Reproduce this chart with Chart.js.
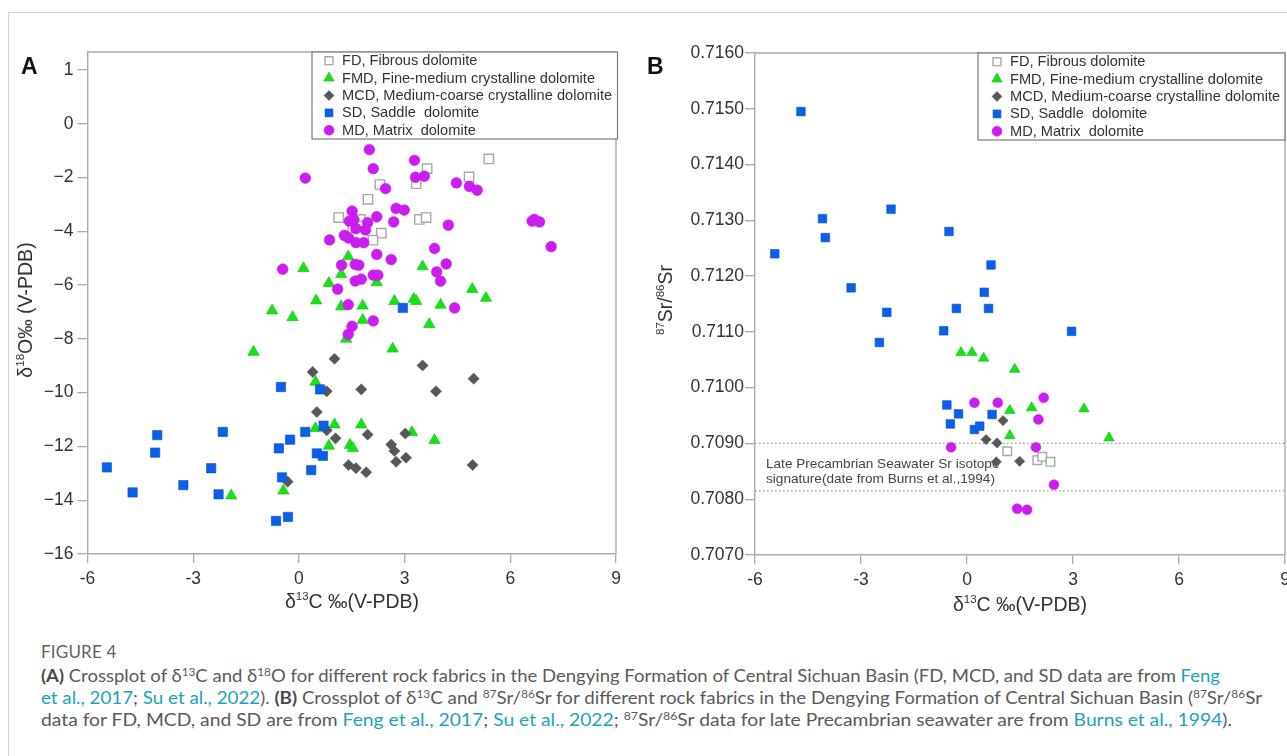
<!DOCTYPE html>
<html><head><meta charset="utf-8">
<script src="https://cdn.jsdelivr.net/npm/chart.js@4.4.1/dist/chart.umd.min.js"></script>
<style>
html,body{margin:0;padding:0;background:#fff;width:1287px;height:756px;overflow:hidden;position:relative;font-family:"Liberation Sans",Arial,sans-serif;}
.frame{position:absolute;left:8px;top:12px;width:1300px;height:760px;border-left:1px solid #d6d6d6;border-top:1px solid #d6d6d6;}
#wa{position:absolute;left:0;top:30px;width:640px;height:600px;}
#wb{position:absolute;left:640px;top:30px;width:660px;height:600px;}
.lbl{position:absolute;font-weight:bold;font-size:23px;color:#111;line-height:1;}
.t{position:absolute;font-size:19.5px;color:#333;white-space:nowrap;line-height:1;}
.t sup{font-size:11.5px;vertical-align:0;position:relative;top:-8px;}
.rot{transform:translate(-50%,-50%) rotate(-90deg);}
.cen{transform:translate(-50%,-50%);}
.cap{position:absolute;left:41px;font-family:Lato,"Open Sans",sans-serif;color:#5a5a5a;font-size:16.5px;white-space:nowrap;transform-origin:0 50%;line-height:1;}
.cap a{color:#1aa3bd;text-decoration:none;}
.cap b{color:#4a4a4a;}
.cap sup{font-size:10.5px;position:relative;top:-6px;vertical-align:0;}
.fig{font-size:17px;color:#5f5f5f;letter-spacing:0.2px;}
</style></head><body>
<div class="frame"></div>
<div id="wa"><canvas id="ca"></canvas></div>
<div id="wb"><canvas id="cb"></canvas></div>
<div class="lbl" style="left:21px;top:55px;">A</div>
<div class="lbl" style="left:647px;top:55px;">B</div>
<div class="t rot" style="left:26px;top:310px;">δ<sup>18</sup>O‰ (V-PDB)</div>
<div class="t cen" style="left:352px;top:602px;">δ<sup>13</sup>C ‰(V-PDB)</div>
<div class="t rot" style="left:666px;top:300px;"><sup>87</sup>Sr/<sup>86</sup>Sr</div>
<div class="t cen" style="left:1020px;top:605px;">δ<sup>13</sup>C ‰(V-PDB)</div>
<div class="cap fig" style="top:643px;">FIGURE 4</div>
<div class="cap cl" style="top:668px;" data-w="1179"><b>(A)</b> Crossplot of δ<sup>13</sup>C and δ<sup>18</sup>O for different rock fabrics in the Dengying Formation of Central Sichuan Basin (FD, MCD, and SD data are from <a>Feng</a></div>
<div class="cap cl" style="top:690px;" data-w="1221"><a>et al., 2017</a>; <a>Su et al., 2022</a>). <b>(B)</b> Crossplot of δ<sup>13</sup>C and <sup>87</sup>Sr/<sup>86</sup>Sr for different rock fabrics in the Dengying Formation of Central Sichuan Basin (<sup>87</sup>Sr/<sup>86</sup>Sr</div>
<div class="cap cl" style="top:712px;" data-w="1191">data for FD, MCD, and SD are from <a>Feng et al., 2017</a>; <a>Su et al., 2022</a>; <sup>87</sup>Sr/<sup>86</sup>Sr data for late Precambrian seawater are from <a>Burns et al., 1994</a>).</div>
<script>
// ---------- tick values / labels ----------
const xTickValues = [-6, -3, 0, 3, 6, 9];
const xTickLabels = ['-6', '-3', '0', '3', '6', '9'];
const yTickValuesA = [2, 0, -2, -4, -6, -8, -10, -12, -14, -16];
const yTickLabelsA = ['1', '0', '−2', '−4', '−6', '−8', '−10', '−12', '−14', '−16'];
const yTickValuesB = [0.7160, 0.7150, 0.7140, 0.7130, 0.7120, 0.7110, 0.7100, 0.7090, 0.7080, 0.7070];
const yTickLabelsB = ['0.7160', '0.7150', '0.7140', '0.7130', '0.7120', '0.7110', '0.7100', '0.7090', '0.7080', '0.7070'];

const seriesLabels = ['FD, Fibrous dolomite', 'FMD, Fine-medium crystalline dolomite', 'MCD, Medium-coarse crystalline dolomite', 'SD, Saddle  dolomite', 'MD, Matrix  dolomite'];

// ---------- Panel A: d13C vs d18O ----------
const fdAx = [5.39, 3.64, 4.83, 2.30, 3.33, 1.96, 1.13, 1.74, 3.42, 3.61, 1.53, 1.78, 2.34, 2.10];
const fdAy = [-1.31, -1.67, -1.98, -2.26, -2.23, -2.81, -3.49, -3.56, -3.56, -3.49, -3.86, -3.80, -4.07, -4.33];

const fmdAx = [0.13, 1.40, 1.20, 0.85, 2.21, 3.51, 0.49, 1.20, 1.81, 2.71, 3.26, 3.33, 4.02, 4.92, 5.31, 1.81, 3.70, 1.34, 2.66, -0.76, -0.18, -1.29, 0.47, 0.47, -0.44, -1.92, 1.01, 1.77, 3.21, 3.85, 0.85, 1.45, 1.53];
const fmdAy = [-5.38, -4.94, -5.60, -5.93, -5.90, -5.31, -6.58, -6.80, -6.77, -6.60, -6.52, -6.60, -6.74, -6.15, -6.48, -7.30, -7.46, -8.00, -8.37, -6.95, -7.20, -8.49, -9.60, -11.33, -13.65, -13.83, -11.19, -11.19, -11.48, -11.77, -11.98, -11.95, -12.07];

const mcdAx = [1.01, 0.39, 3.51, 4.96, 0.79, 1.77, 3.89, 0.51, 0.79, 1.04, 1.95, 3.02, 2.62, 2.71, 2.76, 3.04, 1.41, 1.62, 1.91, 4.93, -0.32];
const mcdAy = [-8.74, -9.23, -8.99, -9.48, -9.95, -9.88, -9.95, -10.72, -11.40, -11.70, -11.56, -11.52, -11.93, -12.17, -12.57, -12.42, -12.69, -12.81, -12.96, -12.69, -13.31];

const sdAx = [-5.45, -4.72, -4.02, -4.08, -3.28, -2.49, -2.16, -2.28, -0.51, -0.57, -0.25, -0.48, -0.65, -0.31, 0.18, 0.35, 0.60, 0.70, 0.51, 0.68, 2.95];
const sdAy = [-12.78, -13.71, -11.58, -12.23, -13.44, -12.81, -11.46, -13.78, -9.79, -12.07, -11.75, -13.15, -14.77, -14.62, -11.46, -12.88, -9.88, -11.23, -12.26, -12.35, -6.85];

const mdAx = [2.00, 2.11, 0.18, 3.28, 3.31, 3.56, 2.46, 4.47, 4.84, 5.06, 1.51, 2.76, 2.99, 2.21, 1.43, 1.56, 1.95, 2.69, 1.89, 1.62, 1.29, 1.41, 1.62, 1.84, 0.87, 4.24, 6.62, 6.68, 6.83, 7.16, 3.85, 2.21, 2.62, 1.21, 1.60, 1.70, 4.18, 3.91, 4.02, 2.11, 2.24, 1.60, 1.77, 1.10, 1.40, 4.42, 2.11, 1.51, 1.40, -0.46];
const mdAy = [-0.96, -1.67, -2.02, -1.36, -1.99, -1.95, -2.41, -2.20, -2.33, -2.47, -3.25, -3.15, -3.21, -3.46, -3.62, -3.56, -3.68, -3.65, -3.95, -3.90, -4.15, -4.25, -4.42, -4.42, -4.32, -3.77, -3.62, -3.56, -3.65, -4.57, -4.64, -4.86, -5.05, -5.26, -5.23, -5.26, -5.21, -5.51, -5.85, -5.63, -5.63, -5.85, -5.78, -6.15, -6.73, -6.85, -7.33, -7.53, -7.83, -5.41];

// ---------- Panel B: d13C vs 87Sr/86Sr ----------
const fdBx = [1.14, 1.99, 2.13, 2.36];
const fdBy = [0.70886, 0.70870, 0.70876, 0.70867];

const fmdBx = [-0.17, 0.14, 0.47, 1.35, 1.21, 1.83, 3.31, 1.21, 4.02];
const fmdBy = [0.71063, 0.71063, 0.71053, 0.71033, 0.70959, 0.70964, 0.70962, 0.70914, 0.70910];

const mcdBx = [1.02, 0.54, 0.85, 0.83, 1.49];
const mcdBy = [0.70941, 0.70907, 0.70901, 0.70867, 0.70868];

const sdBx = [-4.70, -5.44, -4.09, -4.01, -2.15, -0.51, -3.28, -2.27, -0.30, -2.48, -0.66, -0.57, -0.24, -0.47, 0.68, 0.49, 0.61, 2.96, 0.71, 0.21, 0.36];
const sdBy = [0.71495, 0.71240, 0.71303, 0.71269, 0.71320, 0.71280, 0.71179, 0.71135, 0.71142, 0.71081, 0.71102, 0.70969, 0.70953, 0.70935, 0.71220, 0.71171, 0.71142, 0.71101, 0.70952, 0.70925, 0.70931];

const mdBx = [0.21, 0.87, 2.17, 2.02, -0.45, 1.95, 2.46, 1.42, 1.70];
const mdBy = [0.70973, 0.70973, 0.70982, 0.70943, 0.70893, 0.70893, 0.70826, 0.70783, 0.70781];

// Late Precambrian seawater Sr band (Burns et al., 1994)
const seawaterBand = [0.7090, 0.70815];
const seawaterText = ['Late Precambrian Seawater Sr isotope', 'signature(date from Burns et al.,1994)'];

// ---------- styles ----------
const FONT = '"Liberation Sans", Arial, sans-serif';
const styles = [
  {pointStyle: 'rect', radius: 6.6, bg: '#ffffff', border: '#a8a8a8', bw: 1.4, lr: 5.6},
  {pointStyle: 'triangle', radius: 6.6, bg: '#16e316', border: '#10c010', bw: 0.6, lr: 6},
  {pointStyle: 'rectRot', radius: 5.6, bg: '#575757', border: '#575757', bw: 0.5, lr: 5},
  {pointStyle: 'rect', radius: 6.6, bg: '#0b5fe8', border: '#0a52d0', bw: 0.6, lr: 5.6},
  {pointStyle: 'circle', radius: 5.4, bg: '#cc1df0', border: '#c21ae6', bw: 0.5, lr: 5}
];
const ordersTop = [4, 3, 2, 1, 0];

function pts(xs, ys) { return xs.map((x, i) => ({x: x, y: ys[i]})); }

function makeSets(groups, rScale) {
  return groups.map((g, i) => ({
    label: seriesLabels[i],
    data: pts(g[0], g[1]),
    pointStyle: styles[i].pointStyle,
    pointRadius: styles[i].radius * rScale,
    pointHoverRadius: styles[i].radius * rScale,
    backgroundColor: styles[i].bg,
    borderColor: styles[i].border,
    pointBorderWidth: styles[i].bw,
    showLine: false,
    order: ordersTop[i]
  }));
}

const frameLegend = {
  id: 'frameLegend',
  beforeDatasetsDraw(chart, args, opts) {
    const a = chart.chartArea, ctx = chart.ctx;
    ctx.save();
    ctx.strokeStyle = '#ababab';
    ctx.lineWidth = 1.4;
    ctx.beginPath();
    ctx.moveTo(a.left, a.top); ctx.lineTo(a.right, a.top); ctx.lineTo(a.right, a.bottom);
    ctx.stroke();
    if (opts.band) {
      const ys = chart.scales.y;
      ctx.fillStyle = '#444';
      ctx.font = '13.6px ' + FONT;
      ctx.textBaseline = 'middle';
      const y0 = ys.getPixelForValue(seawaterBand[0]);
      ctx.fillText(seawaterText[0], a.left + 11, y0 + 21);
      ctx.fillText(seawaterText[1], a.left + 11, y0 + 36);
    }
    ctx.restore();
  },
  afterDatasetsDraw(chart, args, opts) {
    const a = chart.chartArea, ctx = chart.ctx;
    const L = opts.legend;
    const bx = a.right - L.w, by = a.top;
    ctx.save();
    ctx.fillStyle = '#fff';
    ctx.fillRect(bx, by, L.w + L.over, 87);
    ctx.strokeStyle = '#7a7a7a';
    ctx.lineWidth = 1.2;
    ctx.strokeRect(bx, by, L.w + L.over, 87);
    ctx.font = L.font + 'px ' + FONT;
    ctx.textBaseline = 'middle';
    const drawPoint = Chart.helpers && Chart.helpers.drawPoint;
    seriesLabels.forEach((lab, i) => {
      const y = by + 8.7 + i * 17.4;
      const s = styles[i];
      ctx.fillStyle = s.bg; ctx.strokeStyle = s.border; ctx.lineWidth = s.bw;
      drawPoint(ctx, {pointStyle: s.pointStyle, radius: s.lr, rotation: 0, borderWidth: s.bw}, bx + L.mx, y);
      ctx.fillStyle = '#333';
      ctx.fillText(lab, bx + L.tx, y + 0.5);
    });
    ctx.restore();
  }
};

function axisX(h) {
  return {
    type: 'linear', min: -6, max: 9,
    afterBuildTicks: s => { s.ticks = xTickValues.map(v => ({value: v})); },
    ticks: {callback: (v, i) => xTickLabels[i], font: {size: 17.5, family: FONT}, color: '#333', padding: 6, maxRotation: 0, autoSkip: false},
    grid: {drawOnChartArea: false, drawTicks: true, tickLength: 9, color: '#ababab', lineWidth: 1.3},
    border: {color: '#ababab', width: 1.4},
    afterFit: s => { s.height = h; }
  };
}
function axisY(min, max, vals, labs, w, pad) {
  return {
    type: 'linear', min: min, max: max,
    afterBuildTicks: s => { s.ticks = vals.map(v => ({value: v})); },
    ticks: {callback: (v, i) => labs[i], font: {size: 17.5, family: FONT}, color: '#333', padding: pad, autoSkip: false},
    grid: {drawOnChartArea: false, drawTicks: true, tickLength: 10, color: '#ababab', lineWidth: 1.3},
    border: {color: '#ababab', width: 1.4},
    afterFit: s => { s.width = w; }
  };
}

const common = {
  responsive: false, animation: false, devicePixelRatio: 1,
  plugins: {legend: {display: false}, tooltip: {enabled: false}}
};

const ca = document.getElementById('ca');
ca.width = 640; ca.height = 600;
new Chart(ca, {
  type: 'scatter',
  data: {datasets: makeSets([[fdAx, fdAy], [fmdAx, fmdAy], [mcdAx, mcdAy], [sdAx, sdAy], [mdAx, mdAy]], 1)},
  options: Object.assign({}, common, {
    layout: {padding: {top: 22, right: 24, left: 0, bottom: 0}},
    plugins: {legend: {display: false}, tooltip: {enabled: false},
      frameLegend: {band: false, legend: {w: 304, over: 1.5, mx: 17, tx: 30, font: 14.6}}},
    scales: {x: axisX(76), y: axisY(-16, 2.667, yTickValuesA, yTickLabelsA, 87.5, 4)}
  }),
  plugins: [frameLegend]
});

const cb = document.getElementById('cb');
cb.width = 660; cb.height = 600;
const setsB = makeSets([[fdBx, fdBy], [fmdBx, fmdBy], [mcdBx, mcdBy], [sdBx, sdBy], [mdBx, mdBy]], 0.92);
seawaterBand.forEach(v => {
  setsB.push({label: 'band', data: [{x: -6, y: v}, {x: 9, y: v}], showLine: true, pointRadius: 0,
    borderColor: '#9a9a9a', borderWidth: 1.2, borderDash: [1.5, 2.5], order: 10});
});
new Chart(cb, {
  type: 'scatter',
  data: {datasets: setsB},
  options: Object.assign({}, common, {
    layout: {padding: {top: 23, right: 15, left: 0, bottom: 0}},
    plugins: {legend: {display: false}, tooltip: {enabled: false},
      frameLegend: {band: true, legend: {w: 307, over: 0, mx: 19, tx: 32, font: 14.6}}},
    scales: {x: axisX(75), y: axisY(0.7070, 0.7160, yTickValuesB, yTickLabelsB, 115, 1)}
  }),
  plugins: [frameLegend]
});

// fit caption lines to the reference widths
document.querySelectorAll('.cl').forEach(el => {
  const target = parseFloat(el.dataset.w);
  const w = el.getBoundingClientRect().width;
  if (w > 0) el.style.transform = 'scaleX(' + (target / w) + ')';
});
</script>
</body></html>
